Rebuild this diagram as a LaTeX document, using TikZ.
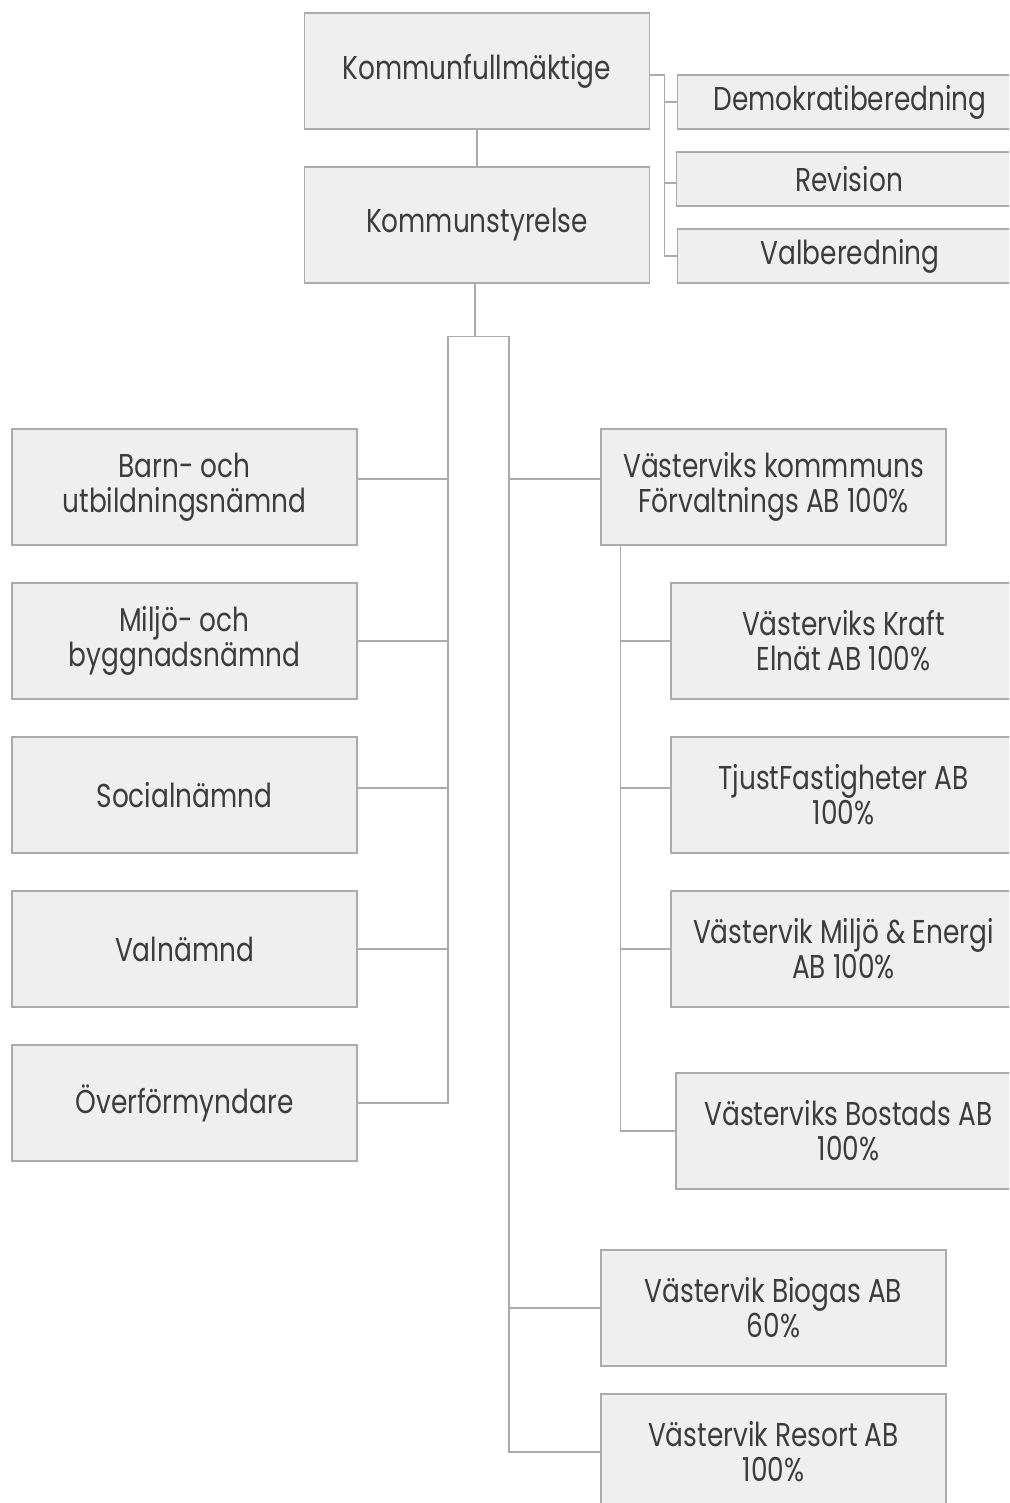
\documentclass[tikz,border=0pt]{standalone}
\usepackage{fontspec}
\setmainfont{Poppins}[FakeStretch=0.8]
\definecolor{boxfill}{HTML}{EFEFEF}
\definecolor{boxline}{HTML}{ABABAB}
\definecolor{textgray}{HTML}{3C3C3C}

\begin{document}
\begin{tikzpicture}[x=0.5pt, y=-0.5pt,
  unit/.style={draw=boxline, line width=0.6pt, fill=boxfill, text=textgray,
    minimum width=172.5pt, minimum height=58pt, inner sep=0pt, align=center,
    font=\fontsize{16.5}{17.5}\selectfont},
  slim/.style={unit, minimum height=27pt},
  conn/.style={draw=boxline, line width=0.6pt}]

\useasboundingbox (0,0) rectangle (1009,1503);
\clip (0,0) rectangle (1009,1503);

% Top level
\node[unit] (kf) at (477,71) {Kommunfullmäktige};
\node[unit] (ks) at (477,225) {Kommunstyrelse};
\node[slim] (demo) at (850,102) {Demokratiberedning};
\node[slim] (rev) at (849,179) {Revision};
\node[slim] (valb) at (850,256) {Valberedning};

% Boards (left)
\node[unit] (barn) at (184.5,487) {Barn- och\\utbildningsnämnd};
\node[unit] (miljo) at (184.5,641) {Miljö- och\\byggnadsnämnd};
\node[unit] (social) at (184.5,795) {Socialnämnd};
\node[unit] (valn) at (184.5,949) {Valnämnd};
\node[unit] (over) at (184.5,1103) {Överförmyndare};

% Companies (right)
\node[unit] (forv) at (773.5,487) {Västerviks kommmuns\\Förvaltnings AB 100\%};
\node[unit] (kraft) at (843.5,641) {Västerviks Kraft\\Elnät AB 100\%};
\node[unit] (tjust) at (843.5,795) {TjustFastigheter AB\\100\%};
\node[unit] (mien) at (843.5,949) {Västervik Miljö \& Energi\\AB 100\%};
\node[unit] (bost) at (848.5,1131) {Västerviks Bostads AB\\100\%};
\node[unit] (biog) at (773.5,1308) {Västervik Biogas AB\\60\%};
\node[unit] (resort) at (773.5,1452) {Västervik Resort AB\\100\%};

% Connectors at the top
\draw[conn] (kf) -- (ks);
\coordinate (kfspine) at ([shift={(14,4)}]kf.east);
\draw[conn] ([yshift=-2pt]kf.east) -- (kfspine) |- (valb.west);
\draw[conn] (demo.west) -- (demo.west -| kfspine);
\draw[conn] ([yshift=-2pt]rev.west) -- ([yshift=-2pt]rev.west -| kfspine);

% Two spines below Kommunstyrelse
\coordinate (hub) at ([shift={(-2,53)}]ks.south);
\coordinate (lspine) at ([shift={(-27,0)}]hub);
\coordinate (rspine) at ([shift={(34,0)}]hub);
\draw[conn] ([xshift=-1pt]ks.south) -- (hub);
\draw[conn] (over.east) -| (lspine) -- (rspine) |- (resort.west);
\draw[conn] ([yshift=4pt]barn.east) -- ([yshift=4pt]barn.east -| lspine);
\draw[conn] ([yshift=3.5pt]social.east) -- ([yshift=3.5pt]social.east -| lspine);
\foreach \n in {miljo,valn} {
  \draw[conn] (\n.east) -- (\n.east -| lspine);
}
\draw[conn] ([yshift=4pt]forv.west) -- ([yshift=4pt]forv.west -| rspine);
\draw[conn] (biog.west) -- (biog.west -| rspine);

% Subsidiaries of Förvaltnings AB
\coordinate (fspine) at ([shift={(20,0)}]forv.south west);
\draw[conn] (fspine) |- (bost.west);
\draw[conn] ([yshift=3.5pt]tjust.west) -- ([yshift=3.5pt]tjust.west -| fspine);
\foreach \n in {kraft,mien} {
  \draw[conn] (\n.west) -- (\n.west -| fspine);
}

\end{tikzpicture}
\end{document}
